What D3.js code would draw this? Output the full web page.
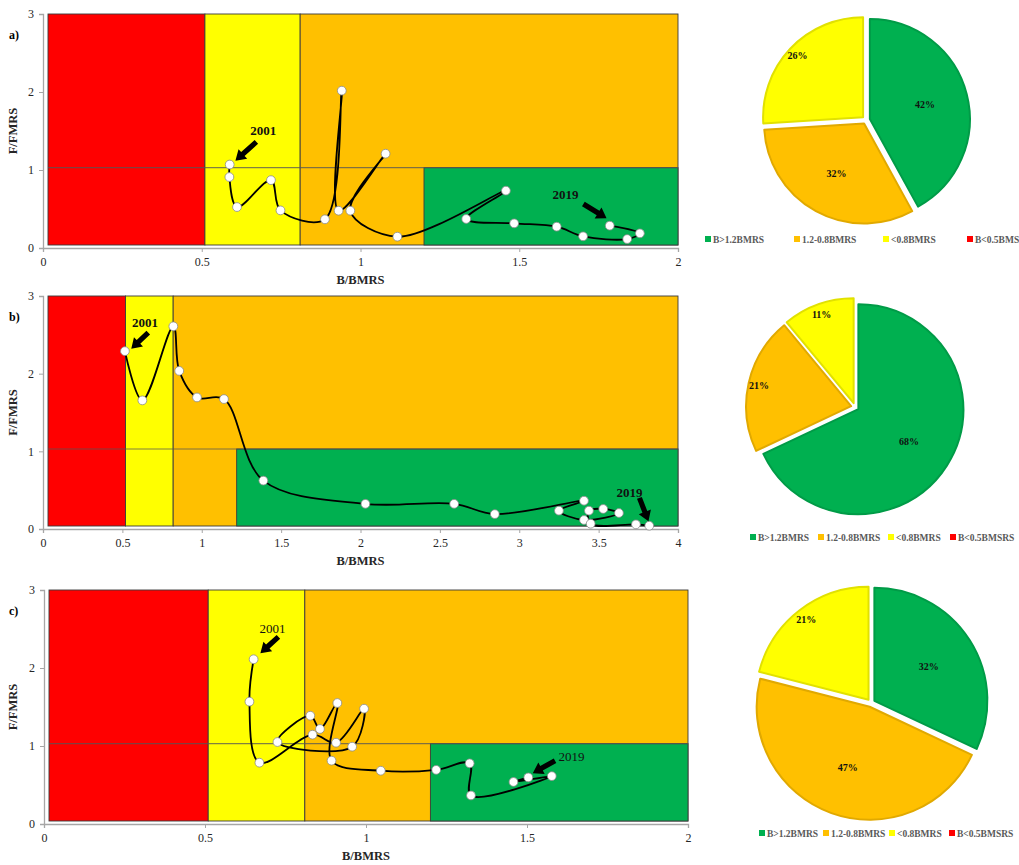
<!DOCTYPE html>
<html>
<head>
<meta charset="utf-8">
<script src="https://cdn.jsdelivr.net/npm/d3@7"></script>
<style>
  body { margin: 0; background: #fff; }
  svg { display: block; }
  text { font-family: "Liberation Serif", "Times New Roman", serif; }
</style>
</head>
<body>
<svg id="chart" width="1019" height="865"></svg>
<script>
// ---- data: B/BMRS and F/FMRS trajectories, 2001 -> 2019 ----
const bA = [0.588, 0.587, 0.611, 0.718, 0.748, 0.888, 0.941, 0.931, 1.079, 0.968, 1.116, 1.458, 1.333, 1.484, 1.618, 1.701, 1.840, 1.880, 1.785];
const fA = [1.07, 0.91, 0.525, 0.87, 0.482, 0.368, 2.017, 0.478, 1.209, 0.478, 0.145, 0.735, 0.372, 0.316, 0.273, 0.15, 0.115, 0.188, 0.286];

const bB = [0.516, 0.626, 0.821, 0.858, 0.970, 1.14, 1.388, 2.031, 2.59, 2.846, 3.408, 3.25, 3.408, 3.628, 3.529, 3.439, 3.45, 3.735, 3.819];
const fB = [2.29, 1.656, 2.61, 2.036, 1.694, 1.673, 0.623, 0.324, 0.324, 0.192, 0.364, 0.236, 0.116, 0.206, 0.258, 0.236, 0.068, 0.06, 0.042];

const bC = [0.651, 0.638, 0.669, 0.834, 0.907, 0.994, 0.957, 0.725, 0.827, 0.857, 0.911, 0.893, 1.046, 1.218, 1.322, 1.326, 1.577, 1.458, 1.504];
const fC = [2.112, 1.568, 0.786, 1.145, 1.042, 1.478, 0.991, 1.051, 1.388, 1.218, 1.551, 0.812, 0.683, 0.694, 0.778, 0.366, 0.614, 0.539, 0.597];

// zone limits: [red/yellow, yellow/orange, orange/green, F limit]
const zonesA = [0.51, 0.81, 1.2, 1.03];
const zonesB = [0.52, 0.82, 1.22, 1.03];
const zonesC = [0.51, 0.81, 1.2, 1.03];

const xTicksA = [0, 0.5, 1, 1.5, 2];
const xTicksB = [0, 0.5, 1, 1.5, 2, 2.5, 3, 3.5, 4];
const xTicksC = [0, 0.5, 1, 1.5, 2];
const yTicks = [0, 1, 2, 3];

// pie shares (% of years) per status
const zoneNames = ['B>1.2BMRS', '1.2-0.8BMRS', '<0.8BMRS', 'B<0.5BMSRS'];
const zoneColors = ['#00b050', '#ffc000', '#ffff00', '#ff0000'];
const pieA = [42, 32, 26, 0];
const pieB = [68, 21, 11, 0];
const pieC = [32, 47, 21, 0];

// year annotations: label point and arrow tail -> head, in data units
const notesA = [
  { text: '2001', lx: 0.694, ly: 1.50, x1: 0.672, y1: 1.36, x2: 0.606, y2: 1.12 },
  { text: '2019', lx: 1.646, ly: 0.68, x1: 1.702, y1: 0.565, x2: 1.775, y2: 0.38 }
];
const notesB = [
  { text: '2001', lx: 0.643, ly: 2.65, x1: 0.663, y1: 2.53, x2: 0.556, y2: 2.32 },
  { text: '2019', lx: 3.695, ly: 0.46, x1: 3.757, y1: 0.40, x2: 3.814, y2: 0.10 }
];
const notesC = [
  { text: '2001', lx: 0.71, ly: 2.50, x1: 0.728, y1: 2.40, x2: 0.672, y2: 2.19 },
  { text: '2019', lx: 1.638, ly: 0.86, x1: 1.587, y1: 0.812, x2: 1.518, y2: 0.652 }
];

const svg = d3.select('#chart');

const panels = [
  { tag: 'a)', B: bA, F: fA, xMax: 2, xTicks: xTicksA, zones: zonesA, pie: pieA, notes: notesA, bold: true,
    box: { l: 43, r: 678, t: 14, b: 248 }, pc: { x: 866, y: 120, r: 100 }, leg: { y: 239, xs: [708, 797, 886, 970] } },
  { tag: 'b)', B: bB, F: fB, xMax: 4, xTicks: xTicksB, zones: zonesB, pie: pieB, notes: notesB, bold: true,
    box: { l: 43, r: 678, t: 296, b: 529 }, pc: { x: 855, y: 407, r: 105 }, leg: { y: 537, xs: [753, 821, 891, 953] } },
  { tag: 'c)', B: bC, F: fC, xMax: 2, xTicks: xTicksC, zones: zonesC, pie: pieC, notes: notesC, bold: false,
    box: { l: 44, r: 688, t: 590, b: 824 }, pc: { x: 871, y: 703, r: 113 }, leg: { y: 833, xs: [762, 826, 892, 952] } }
];

function blockArrow(x1, y1, x2, y2) {
  const dx = x2 - x1, dy = y2 - y1, L = Math.hypot(dx, dy);
  const ux = dx / L, uy = dy / L, nx = -uy, ny = ux;
  const sw = 2.6, hw = 6.5, hl = 10;
  const bx = x2 - ux * hl, by = y2 - uy * hl;
  const pts = [
    [x1 + nx * sw, y1 + ny * sw], [bx + nx * sw, by + ny * sw], [bx + nx * hw, by + ny * hw],
    [x2, y2],
    [bx - nx * hw, by - ny * hw], [bx - nx * sw, by - ny * sw], [x1 - nx * sw, y1 - ny * sw]
  ];
  return 'M' + pts.map(p => p.join(',')).join('L') + 'Z';
}

panels.forEach(p => {
  const g = svg.append('g');
  const x = d3.scaleLinear().domain([0, p.xMax]).range([p.box.l, p.box.r]);
  const y = d3.scaleLinear().domain([0, 3]).range([p.box.b, p.box.t]);
  const left = x(0) + 5, bottom = y(0) - 3;
  const [redTo, yelTo, greenFrom, fLim] = p.zones;

  const rects = [
    { x1: left, x2: x(redTo), y1: y(3), y2: bottom, c: zoneColors[3] },
    { x1: x(redTo), x2: x(yelTo), y1: y(3), y2: bottom, c: zoneColors[2] },
    { x1: x(yelTo), x2: x(p.xMax), y1: y(3), y2: bottom, c: zoneColors[1] },
    { x1: x(greenFrom), x2: x(p.xMax), y1: y(fLim), y2: bottom, c: zoneColors[0] }
  ];
  g.selectAll('rect.zone').data(rects).enter().append('rect')
    .attr('class', 'zone')
    .attr('x', d => d.x1).attr('y', d => d.y1)
    .attr('width', d => d.x2 - d.x1).attr('height', d => d.y2 - d.y1)
    .attr('fill', d => d.c)
    .attr('stroke', '#3a3a3a').attr('stroke-width', 0.9);

  g.append('line')
    .attr('x1', left).attr('x2', x(p.xMax))
    .attr('y1', y(fLim)).attr('y2', y(fLim))
    .attr('stroke', '#555').attr('stroke-opacity', 0.75).attr('stroke-width', 1.2);

  // axes
  const ax = g.append('g').attr('transform', `translate(0,${y(0)})`)
    .call(d3.axisBottom(x).tickValues(p.xTicks).tickSize(4).tickPadding(5).tickFormat(d3.format('~g')));
  const ay = g.append('g').attr('transform', `translate(${x(0)},0)`)
    .call(d3.axisLeft(y).tickValues(yTicks).tickSize(4).tickPadding(5).tickFormat(d3.format('~g')));
  [ax, ay].forEach(a => {
    a.select('.domain').attr('stroke', '#a6a6a6').attr('stroke-width', 1.3);
    a.selectAll('.tick line').attr('stroke', '#a6a6a6');
    a.selectAll('.tick text').attr('fill', '#262626').style('font-size', '12px')
      .style('font-family', '"Liberation Serif", serif');
  });

  g.append('text').attr('x', (x(0) + x(p.xMax)) / 2).attr('y', p.box.b + 36)
    .attr('text-anchor', 'middle').style('font-size', '12.5px').style('font-weight', 'bold')
    .attr('fill', '#262626').text('B/BMRS');
  g.append('text').attr('transform', `translate(17,${(p.box.t + p.box.b) / 2}) rotate(-90)`)
    .attr('text-anchor', 'middle').style('font-size', '12.5px').style('font-weight', 'bold')
    .attr('fill', '#262626').text('F/FMRS');
  g.append('text').attr('x', 9).attr('y', p.box.t + 25)
    .style('font-size', '12px').style('font-weight', 'bold').text(p.tag);

  // trajectory
  const pts = p.B.map((b, i) => [b, p.F[i]]);
  const line = d3.line().x(d => x(d[0])).y(d => y(d[1])).curve(d3.curveCatmullRom.alpha(0.5));
  g.append('path').datum(pts).attr('d', line)
    .attr('fill', 'none').attr('stroke', '#000').attr('stroke-width', 1.8);
  g.selectAll('circle.pt').data(pts).enter().append('circle')
    .attr('class', 'pt')
    .attr('cx', d => x(d[0])).attr('cy', d => y(d[1])).attr('r', 4.4)
    .attr('fill', '#fff').attr('stroke', '#8c8c8c').attr('stroke-width', 0.8);

  // year annotations
  p.notes.forEach(n => {
    g.append('path').attr('d', blockArrow(x(n.x1), y(n.y1), x(n.x2), y(n.y2))).attr('fill', '#000');
    g.append('text').attr('x', x(n.lx)).attr('y', y(n.ly) + 4)
      .attr('text-anchor', 'middle').style('font-size', '13px')
      .style('font-weight', p.bold ? 'bold' : 'normal').attr('fill', '#111').text(n.text);
  });

  // pie
  const arcs = d3.pie().sort(null).value(d => d)(p.pie).filter(d => d.data > 0);
  const arc = d3.arc().innerRadius(0).outerRadius(p.pc.r);
  const pg = svg.append('g').attr('transform', `translate(${p.pc.x},${p.pc.y})`);
  arcs.forEach(a => {
    const mid = (a.startAngle + a.endAngle) / 2;
    const off = 4;
    const col = zoneColors[a.index];
    const sg = pg.append('g').attr('transform', `translate(${Math.sin(mid) * off},${-Math.cos(mid) * off})`);
    sg.append('path').attr('d', arc(a)).attr('fill', col)
      .attr('stroke', d3.color(col).darker(0.35)).attr('stroke-width', 2).attr('stroke-linejoin', 'round');
    const lr = a.data < 30 ? 0.9 * p.pc.r : 0.57 * p.pc.r;
    sg.append('text').attr('x', Math.sin(mid) * lr).attr('y', -Math.cos(mid) * lr + 3.5)
      .attr('text-anchor', 'middle').style('font-size', '10px').style('font-weight', 'bold')
      .attr('fill', '#111').text(a.data + '%');
  });

  // legend
  const lg = svg.append('g');
  zoneNames.forEach((name, i) => {
    const lx = p.leg.xs[i];
    lg.append('rect').attr('x', lx - 3).attr('y', p.leg.y - 3).attr('width', 6).attr('height', 6)
      .attr('fill', zoneColors[i]);
    lg.append('text').attr('x', lx + 5).attr('y', p.leg.y + 3.5)
      .style('font-size', '9.5px').style('font-weight', 'bold').attr('fill', '#595959').text(name);
  });
});
</script>
</body>
</html>
